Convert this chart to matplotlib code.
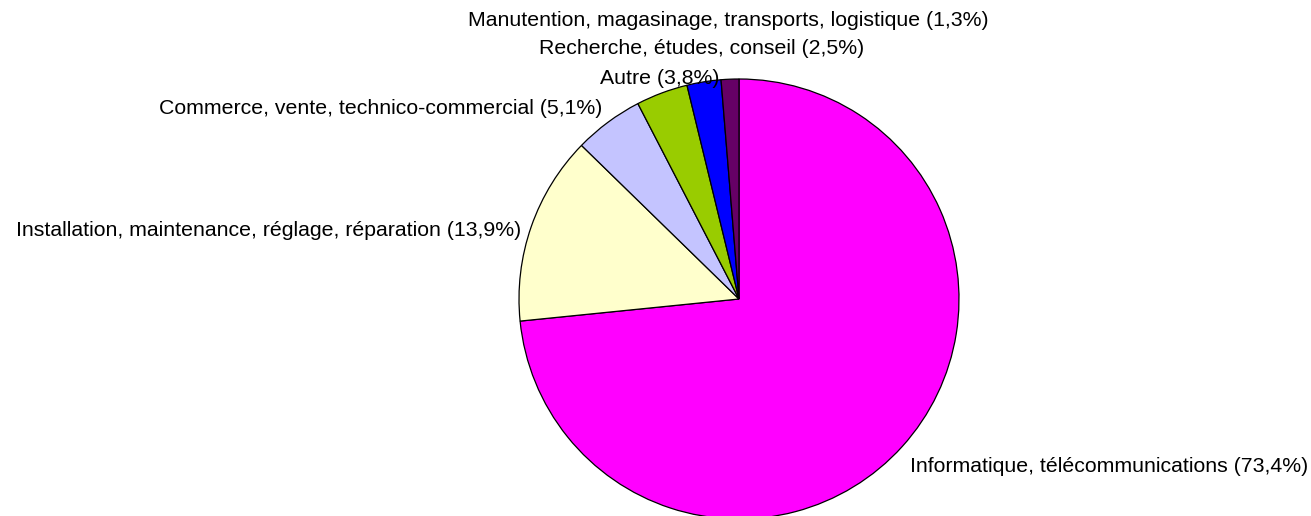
import matplotlib
matplotlib.use("Agg")
import matplotlib.pyplot as plt

categories = [
    "Informatique, télécommunications",
    "Installation, maintenance, réglage, réparation",
    "Commerce, vente, technico-commercial",
    "Autre",
    "Recherche, études, conseil",
    "Manutention, magasinage, transports, logistique",
]
values = [73.4, 13.9, 5.1, 3.8, 2.5, 1.3]
colors = ["#FF00FF", "#FFFFCC", "#C4C4FF", "#99CC00", "#0000FF", "#660066"]

W, H = 1311, 516
fig = plt.figure(figsize=(W / 100, H / 100), dpi=100)
ax = fig.add_axes([0, 0, 1, 1])

cx, cy, r = 739, H - 299, 220
ax.pie(values, colors=colors, startangle=90, counterclock=False,
       center=(cx, cy), radius=r, frame=True,
       wedgeprops=dict(edgecolor="black", linewidth=0.9))
ax.set_xlim(0, W)
ax.set_ylim(0, H)
ax.set_aspect("equal")
ax.axis("off")

# label placement (x, y from top, alignment)
label_pos = [
    (910, 467, "left"),
    (521, 230, "right"),
    (602, 108, "right"),
    (660, 78, "center"),
    (702, 49, "center"),
    (728, 21, "center"),
]
fs = 15.35
for cat, v, (x, y, ha) in zip(categories, values, label_pos):
    lab = f"{cat} ({v:.1f}%)".replace(".", ",")
    ax.text(x, H - y, lab, ha=ha, va="center", fontsize=fs,
            family="Liberation Sans", color="black", zorder=5)

fig.savefig("out.png", dpi=100)
